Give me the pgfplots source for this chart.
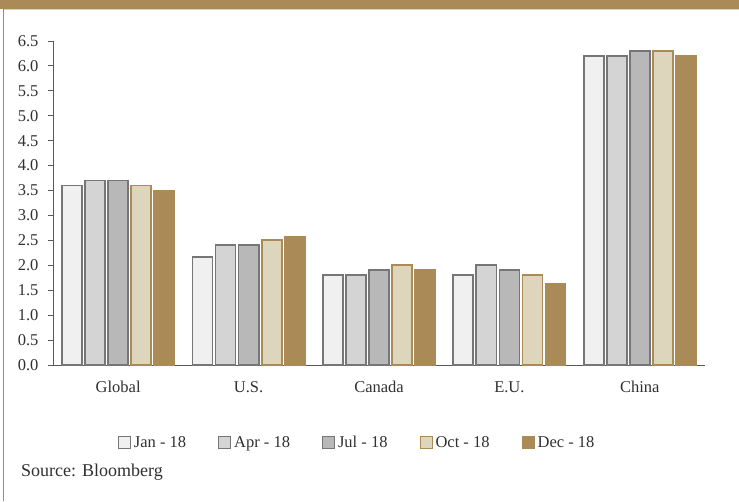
\documentclass[border=0pt]{standalone}
\usepackage{pgfplots}
\pgfplotsset{compat=1.18}
\usepackage{fontspec}
\setmainfont{Liberation Serif}
\definecolor{tan}{HTML}{AA8A56}
\definecolor{beige}{HTML}{DDD6BC}
\definecolor{bordgray}{HTML}{767676}
\definecolor{txt}{HTML}{303030}
\begin{document}
\begin{tikzpicture}
\useasboundingbox (0pt,0pt) rectangle (739pt,501pt);
\fill[tan] (0pt,492pt) rectangle (739pt,501pt);
\fill[tan!40] (3pt,491pt) rectangle (739pt,492pt);
\draw[tan,line width=1pt] (3.5pt,0pt) -- (3.5pt,492pt);
\begin{axis}[
  at={(53pt,136pt)}, anchor=south west,
  scale only axis, width=652pt, height=324pt,
  xmin=-0.5, xmax=4.5, ymin=0, ymax=6.5,
  ybar=3pt, bar width=20pt,
  axis x line=bottom, axis y line=left,
  axis line style={-, draw=black!65, line width=0.9pt},
  xtick={0,1,2,3,4},
  xticklabels={Global,U.S.,Canada,E.U.,China},
  xtick style={draw=none},
  ytick={0,0.5,...,6.5},
  tick align=outside, major tick length=5pt,
  ytick style={draw=black!65, line width=0.9pt},
  /pgf/number format/assume math mode=true,
  tick label style={font=\fontsize{16.5}{19}\selectfont, text=txt},
  yticklabel style={xshift=-6pt, /pgf/number format/.cd,fixed,fixed zerofill,precision=1},
  xticklabel style={yshift=-8pt},
  legend columns=5,
  legend style={at={(0.4665,-0.24)}, anchor=center, draw=none, fill=none,
    font=\fontsize{16.5}{19}\selectfont, text=txt,
    /tikz/every odd column/.style={column sep=1pt},
    /tikz/every even column/.style={column sep=30pt}},
  legend image code/.code={\draw[#1, line width=1pt] (0pt,-6pt) rectangle (12pt,6pt);},
  clip=false,
]
\addplot[fill=black!6, draw=bordgray, line width=1.8pt] coordinates {(0,3.6) (1,2.17) (2,1.8) (3,1.8) (4,6.2)};
\addplot[fill=black!17, draw=bordgray, line width=1.8pt] coordinates {(0,3.7) (1,2.4) (2,1.8) (3,2.0) (4,6.2)};
\addplot[fill=black!28, draw=bordgray, line width=1.8pt] coordinates {(0,3.7) (1,2.4) (2,1.9) (3,1.9) (4,6.3)};
\addplot[fill=beige, draw=tan, line width=1.8pt] coordinates {(0,3.6) (1,2.5) (2,2.0) (3,1.8) (4,6.3)};
\addplot[fill=tan, draw=tan, line width=1.8pt] coordinates {(0,3.5) (1,2.57) (2,1.9) (3,1.62) (4,6.2)};
\legend{Jan - 18, Apr - 18, Jul - 18, Oct - 18, Dec - 18}
\end{axis}
\node[anchor=west, inner sep=0pt, text=txt, font=\fontsize{18}{21}\selectfont] at (21pt,29pt) {Source: Bloomberg};
\end{tikzpicture}
\end{document}
